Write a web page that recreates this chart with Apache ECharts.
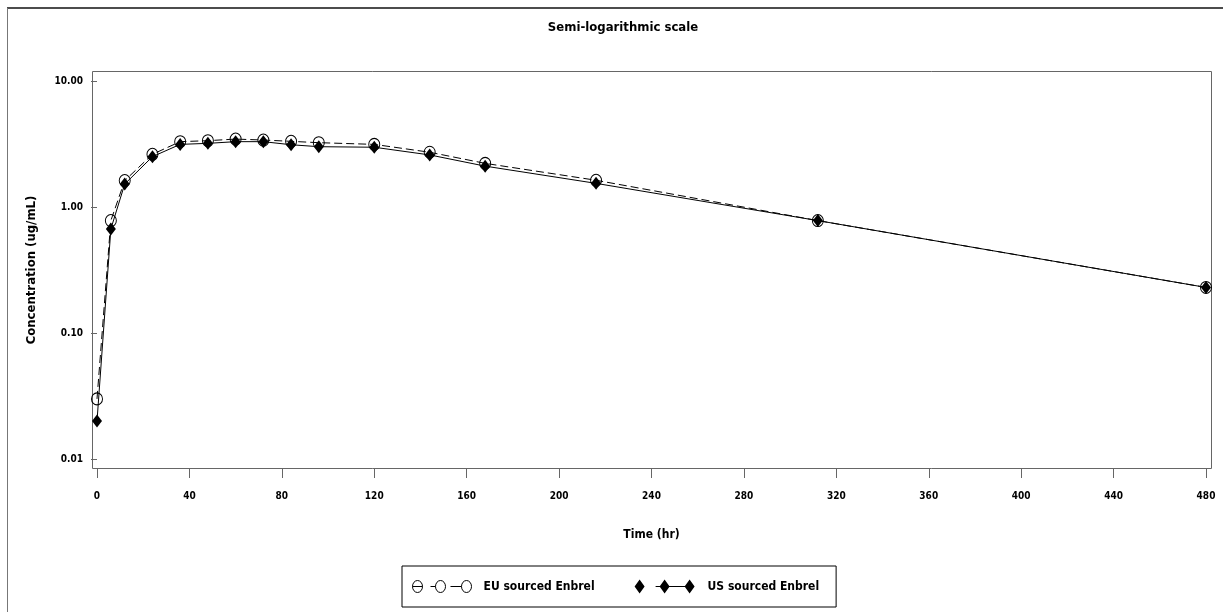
<!DOCTYPE html>
<html>
<head>
<meta charset="utf-8">
<script src="https://cdn.jsdelivr.net/npm/echarts@6/dist/echarts.min.js"></script>
<style>
html,body{margin:0;padding:0;background:#fff;}
#chart{width:1223px;height:612px;}
</style>
</head>
<body>
<div id="chart"></div>
<script>
// ---- data ----
var times = [0, 6, 12, 24, 36, 48, 60, 72, 84, 96, 120, 144, 168, 216, 312, 480];
var euConc = [0.030, 0.78, 1.62, 2.62, 3.30, 3.36, 3.46, 3.40, 3.32, 3.24, 3.14, 2.72, 2.22, 1.63, 0.78, 0.23];
var usConc = [0.020, 0.67, 1.52, 2.51, 3.14, 3.20, 3.30, 3.30, 3.12, 3.01, 2.98, 2.59, 2.11, 1.54, 0.78, 0.23];
var xTicks = [0, 480, 40];      // min, max, interval
var yTicks = [0.01, 10];        // min, max (log10)
var titleText = 'Semi-logarithmic scale';
var xName = 'Time (hr)';
var yName = 'Concentration (ug/mL)';
var euName = 'EU sourced Enbrel';
var usName = 'US sourced Enbrel';

var FONT = "'Liberation Sans Narrow','DejaVu Sans Condensed','Liberation Sans',Arial,sans-serif";

function pairs(xs, ys){ return xs.map(function(x,i){ return [x, ys[i]]; }); }

var euIcon = 'path://M0 0M68 14' +
  'M2 7a5 6 0 1 0 10 0a5 6 0 1 0 -10 0Z M2 7L12 7' +
  'M20 7L25 7 M25 7a5 6 0 1 0 10 0a5 6 0 1 0 -10 0Z' +
  'M40 7L51 7 M51 7a5 6 0 1 0 10 0a5 6 0 1 0 -10 0Z';
var usIcon = 'path://M0 0M68 14' +
  'M0 7L5 0L10 7L5 14Z M25 7L30 0L35 7L30 14Z M50 7L55 0L60 7L55 14Z' +
  'M21 6.5L52 6.5L52 7.5L21 7.5Z';

var chart = echarts.init(document.getElementById('chart'), null, {renderer:'canvas'});
var option = {
  animation: false,
  backgroundColor: '#fff',
  title: {
    text: titleText,
    left: 618, top: 16, textAlign: 'center',
    textStyle: {fontFamily: FONT, fontSize: 13, fontWeight: 'bold', color: '#000'}
  },
  graphic: [
    {type:'line', shape:{x1:7, y1:8, x2:1223, y2:8}, style:{stroke:'#111', lineWidth:1.5}},
    {type:'line', shape:{x1:7.5, y1:8, x2:7.5, y2:612}, style:{stroke:'#777', lineWidth:1}}
  ],
  legend: {
    left: 402, top: 566,
    orient: 'horizontal',
    padding: [13, 17, 13, 8],
    itemGap: 40,
    itemWidth: 68, itemHeight: 14,
    borderColor: '#000', borderWidth: 1,
    selectedMode: false,
    textStyle: {fontFamily: FONT, fontSize: 12, fontWeight: 'bold', color: '#000'},
    data: [
      {name: euName, icon: euIcon, itemStyle: {color: 'rgba(0,0,0,0)', borderColor: '#000', borderWidth: 1}},
      {name: usName, icon: usIcon, itemStyle: {color: '#000', borderColor: '#000', borderWidth: 0}}
    ]
  },
  grid: [
    {left: 92.5, top: 71.5, width: 1119, height: 397, show: true, borderColor: '#666', borderWidth: 1, backgroundColor: 'rgba(0,0,0,0)'},
    {left: 97, top: 81, width: 1109, height: 378}
  ],
  xAxis: [
    {gridIndex: 0, type: 'value', show: false, min: 0, max: 1},
    {
      gridIndex: 1, type: 'value', position: 'bottom', offset: 9,
      min: xTicks[0], max: xTicks[1], interval: xTicks[2],
      axisLine: {show: false},
      axisTick: {show: true, length: 10, lineStyle: {color: '#666', width: 1}},
      splitLine: {show: false},
      axisLabel: {margin: 23, fontFamily: FONT, fontSize: 10, fontWeight: 'bold', color: '#000'},
      name: xName, nameLocation: 'middle', nameGap: 61,
      nameTextStyle: {fontFamily: FONT, fontSize: 12, fontWeight: 'bold', color: '#000'}
    }
  ],
  yAxis: [
    {gridIndex: 0, type: 'value', show: false, min: 0, max: 1},
    {
      gridIndex: 1, type: 'log', logBase: 10, position: 'left', offset: 5,
      min: yTicks[0], max: yTicks[1],
      axisLine: {show: false},
      axisTick: {show: true, length: 6, lineStyle: {color: '#666', width: 1}},
      minorTick: {show: false},
      splitLine: {show: false},
      axisLabel: {margin: 9, fontFamily: FONT, fontSize: 10, fontWeight: 'bold', color: '#000',
        formatter: function(v){ return (+v).toFixed(2); }},
      name: yName, nameLocation: 'middle', nameGap: 54, nameRotate: 90,
      nameTextStyle: {fontFamily: FONT, fontSize: 13, fontWeight: 'bold', color: '#000'}
    }
  ],
  series: [
    {
      name: euName, type: 'line', xAxisIndex: 1, yAxisIndex: 1,
      data: pairs(times, euConc),
      clip: false,
      symbol: 'circle', symbolSize: [11, 12],
      itemStyle: {color: 'rgba(255,255,255,0)', borderColor: '#000', borderWidth: 1},
      lineStyle: {color: '#000', width: 1, type: [8, 4]},
      z: 2
    },
    {
      name: usName, type: 'line', xAxisIndex: 1, yAxisIndex: 1,
      data: pairs(times, usConc),
      clip: false,
      symbol: 'diamond', symbolSize: [10, 13],
      itemStyle: {color: '#000', borderWidth: 0},
      lineStyle: {color: '#000', width: 1, type: 'solid'},
      z: 3
    }
  ]
};
chart.setOption(option);
</script>
</body>
</html>
